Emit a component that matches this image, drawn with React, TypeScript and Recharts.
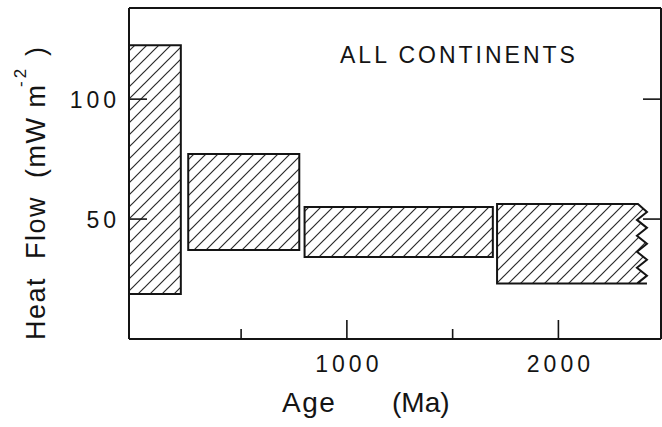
import { ComposedChart, XAxis, YAxis, ReferenceArea, ReferenceLine } from 'recharts';

// age groups (Ma) and heat flow range (mW m^-2) for each group
const ageStart = [-30, 250, 800, 1710];
const ageEnd = [215, 775, 1690, 2395];
const flowLow = [18.8, 37.1, 34.2, 23.1];
const flowHigh = [122.5, 77.1, 55, 56.3];
const openEnded = [false, false, false, true];

const ageTicks = [500, 1000, 1500, 2000];
const labeledAges = [1000, 2000];
const flowTicks = [50, 100];

const INK = '#141414';
const FONT = '"Liberation Sans", Arial, Helvetica, sans-serif';

const boxes = ageStart.map((start, i) => ({
  start,
  end: ageEnd[i],
  low: flowLow[i],
  high: flowHigh[i],
  open: openEnded[i],
}));

const AgeTick = (props: any) => {
  const { x, y, payload } = props;
  const major = labeledAges.includes(payload.value);
  return (
    <g>
      <line x1={x} x2={x} y1={y} y2={y - (major ? 19 : 10)} stroke={INK} strokeWidth={1.6} />
      {major && (
        <text x={x + 2} y={y + 33} textAnchor="middle" fontFamily={FONT} fontSize={23} letterSpacing={4} fill={INK}>
          {payload.value}
        </text>
      )}
    </g>
  );
};

const FlowTick = (props: any) => {
  const { x, y, payload } = props;
  return (
    <text x={x} y={y + 8.5} textAnchor="end" fontFamily={FONT} fontSize={23} letterSpacing={4} fill={INK}>
      {payload.value}
    </text>
  );
};

const RightTick = (props: any) => {
  const { x, y } = props;
  return <line x1={x - 18} x2={x} y1={y} y2={y} stroke={INK} strokeWidth={1.6} />;
};

// short inward tick on the left axis, drawn over the boxes
const InnerTick = (props: any) => {
  const { x, y, height } = props;
  const yy = y + (height || 0) / 2;
  return <line x1={x} x2={x + 18} y1={yy} y2={yy} stroke={INK} strokeWidth={1.6} />;
};

// open-ended group: right edge drawn as a zigzag
const ZigzagBox = (props: any) => {
  const { x, y, width, height } = props;
  const right = x + width;
  const teeth = 10;
  let d = `M${x},${y} L${right - 4},${y}`;
  for (let i = 1; i <= teeth; i++) {
    const yy = y + (height * i) / teeth;
    const xx = i % 2 ? right + 5 : right - 5;
    d += ` L${xx},${yy}`;
  }
  d += ` L${right + 5},${y + height} L${x},${y + height} Z`;
  return <path d={d} fill="url(#hatch)" stroke={INK} strokeWidth={2} strokeLinejoin="miter" />;
};

export default function App() {
  return (
    <div style={{ position: 'absolute', left: 0, top: 0, width: 662, height: 427, background: '#fff' }}>
      <ComposedChart width={662} height={427} data={boxes} margin={{ top: 8, right: 0, left: 0, bottom: 0 }}>
        <defs>
          <pattern id="hatch" patternUnits="userSpaceOnUse" width={12} height={12}>
            <rect width={12} height={12} fill="#fff" />
            <path d="M-3,3 L3,-3 M0,12 L12,0 M9,15 L15,9" stroke="#2a2a2a" strokeWidth={1.2} />
          </pattern>
        </defs>
        <ReferenceLine y={138} stroke={INK} strokeWidth={2} />
        {boxes.map((b, i) => (
          <ReferenceArea
            key={i}
            x1={b.start}
            x2={b.end}
            y1={b.low}
            y2={b.high}
            fill="url(#hatch)"
            fillOpacity={1}
            stroke={INK}
            strokeWidth={2}
            ifOverflow="visible"
            shape={b.open ? <ZigzagBox /> : undefined}
          />
        ))}
        {flowTicks.map((t) => (
          <ReferenceArea
            key={`tick-${t}`}
            x1={ageStart[0]}
            x2={ageEnd[0]}
            y1={t - 0.3}
            y2={t + 0.3}
            ifOverflow="visible"
            shape={<InnerTick />}
          />
        ))}
        <XAxis
          type="number"
          dataKey="start"
          domain={[-30, 2485]}
          allowDataOverflow
          ticks={ageTicks}
          interval={0}
          tickSize={0}
          tickMargin={0}
          tickLine={false}
          tick={<AgeTick />}
          axisLine={{ stroke: INK, strokeWidth: 2 }}
          height={88}
        />
        <YAxis
          type="number"
          domain={[0, 138]}
          allowDataOverflow
          ticks={flowTicks}
          interval={0}
          tickSize={0}
          tickMargin={9}
          tickLine={false}
          tick={<FlowTick />}
          axisLine={{ stroke: INK, strokeWidth: 2 }}
          width={129}
        />
        <YAxis
          yAxisId="right"
          orientation="right"
          type="number"
          domain={[0, 138]}
          allowDataOverflow
          ticks={flowTicks}
          interval={0}
          tickSize={0}
          tickMargin={0}
          tickLine={false}
          tick={<RightTick />}
          axisLine={{ stroke: INK, strokeWidth: 2 }}
          width={1}
        />
        <text x={340} y={63} fontFamily={FONT} fontSize={23} letterSpacing={3} fill={INK}>
          ALL CONTINENTS
        </text>
        <text
          x={45}
          y={340}
          transform="rotate(-90, 45, 340)"
          fontFamily={FONT}
          fontSize={27}
          letterSpacing={1.5}
          fill={INK}
          style={{ whiteSpace: 'pre' }}
        >
          {'Heat  Flow  (mW m'}
        </text>
        <text x={26} y={87} transform="rotate(-90, 26, 87)" fontFamily={FONT} fontSize={17} letterSpacing={3} fill={INK}>
          -2
        </text>
        <text x={45} y={56} transform="rotate(-90, 45, 56)" fontFamily={FONT} fontSize={27} fill={INK}>
          )
        </text>
        <text x={282} y={412} fontFamily={FONT} fontSize={28} letterSpacing={1.5} fill={INK}>
          Age
        </text>
        <text x={392} y={412} fontFamily={FONT} fontSize={28} fill={INK}>
          (Ma)
        </text>
      </ComposedChart>
    </div>
  );
}
